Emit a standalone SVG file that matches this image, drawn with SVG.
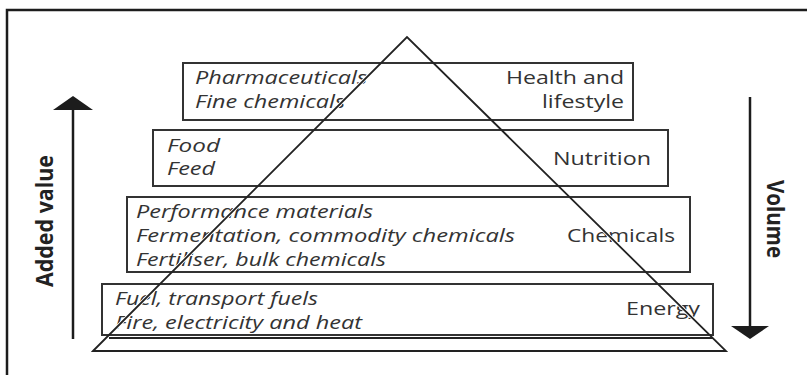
<svg xmlns="http://www.w3.org/2000/svg" width="807" height="375" viewBox="0 0 807 375">
  <defs>
    <style>
      .frame { fill: none; stroke: #1c1c1c; stroke-width: 2.5; }
      .box { fill: none; stroke: #333; stroke-width: 2; }
      .item { font-family: "Open Sans", "Noto Sans", "Liberation Sans", sans-serif; font-style: italic; font-size: 18px; fill: #333; }
      .sector { font-family: "Open Sans", "Noto Sans", "Liberation Sans", sans-serif; font-size: 18px; fill: #333; text-anchor: end; }
      .axis { font-family: "Open Sans", "Liberation Sans", sans-serif; font-weight: bold; font-size: 24px; fill: #222; text-anchor: middle; }
      .halo { fill: none; stroke: #fff; stroke-width: 3.5; stroke-linejoin: miter; }
      .tri { fill: none; stroke: #222; stroke-width: 1.8; stroke-linejoin: miter; }
      .shaft { stroke: #1c1c1c; stroke-width: 2.5; }
      .head { fill: #1c1c1c; }
    </style>
  </defs>

  <rect width="807" height="375" fill="#fff"/>
  <!-- outer frame, open to the right and bottom -->
  <rect class="frame" x="7" y="10" width="830" height="400"/>

  <!-- side arrows -->
  <g id="added-value">
    <line class="shaft" x1="73" y1="108" x2="73" y2="339"/>
    <polygon class="head" points="73,96 93,110 53,110"/>
    <text class="axis" transform="translate(53,221) rotate(-90)" textLength="132" lengthAdjust="spacingAndGlyphs">Added value</text>
  </g>
  <g id="volume">
    <line class="shaft" x1="750" y1="97" x2="750" y2="327"/>
    <polygon class="head" points="731,326 769,326 750,339"/>
    <text class="axis" transform="translate(767,219) rotate(90)" textLength="78" lengthAdjust="spacingAndGlyphs">Volume</text>
  </g>

  <!-- tier labels -->
  <g id="health">
    <text class="item" x="195" y="84" textLength="172" lengthAdjust="spacingAndGlyphs">Pharmaceuticals</text>
    <text class="item" x="195" y="108" textLength="150" lengthAdjust="spacingAndGlyphs">Fine chemicals</text>
    <text class="sector" x="624" y="84" textLength="118" lengthAdjust="spacingAndGlyphs">Health and</text>
    <text class="sector" x="624" y="108" textLength="82" lengthAdjust="spacingAndGlyphs">lifestyle</text>
  </g>
  <g id="nutrition">
    <text class="item" x="167" y="152" textLength="53" lengthAdjust="spacingAndGlyphs">Food</text>
    <text class="item" x="167" y="175" textLength="48" lengthAdjust="spacingAndGlyphs">Feed</text>
    <text class="sector" x="651" y="165" textLength="98" lengthAdjust="spacingAndGlyphs">Nutrition</text>
  </g>
  <g id="chemicals">
    <text class="item" x="136" y="218" textLength="237" lengthAdjust="spacingAndGlyphs">Performance materials</text>
    <text class="item" x="136" y="242" textLength="379" lengthAdjust="spacingAndGlyphs">Fermentation, commodity chemicals</text>
    <text class="item" x="136" y="266" textLength="250" lengthAdjust="spacingAndGlyphs">Fertiliser, bulk chemicals</text>
    <text class="sector" x="675" y="242" textLength="108" lengthAdjust="spacingAndGlyphs">Chemicals</text>
  </g>
  <g id="energy">
    <text class="item" x="115" y="305" textLength="203" lengthAdjust="spacingAndGlyphs">Fuel, transport fuels</text>
    <text class="item" x="115" y="329" textLength="247" lengthAdjust="spacingAndGlyphs">Fire, electricity and heat</text>
    <text class="sector" x="700" y="315" textLength="74" lengthAdjust="spacingAndGlyphs">Energy</text>
  </g>

  <!-- pyramid outline, with a white edge that clears the lettering beneath it -->
  <g id="pyramid-halo">
    <polyline class="halo" points="93,351 407,37 726,351"/>
  </g>

  <!-- tier boxes -->
  <g id="boxes">
    <rect class="box" x="183" y="63" width="450" height="57"/>
    <rect class="box" x="153" y="130" width="515" height="56"/>
    <rect class="box" x="127" y="197" width="563" height="75"/>
    <rect class="box" x="102" y="284" width="611" height="51"/>
  </g>

  <g id="pyramid">
    <polygon class="tri" points="93,351 407,37 726,351"/>
    <line class="tri" x1="109" y1="338" x2="713" y2="338"/>
  </g>
</svg>
